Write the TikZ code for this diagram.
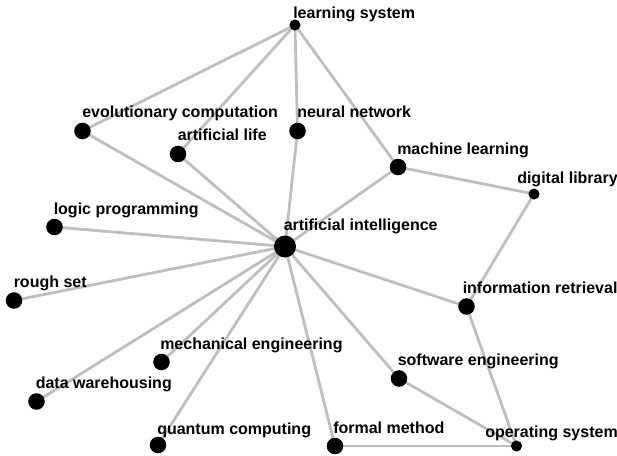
\documentclass[tikz,border=0pt]{standalone}
\usepackage{fontspec}
\setmainfont{Liberation Sans}
\usepackage{tikz}
\usetikzlibrary{backgrounds}

\definecolor{edgegray}{RGB}{190,190,190}

\begin{document}
\begin{tikzpicture}[x=0.75pt, y=-0.75pt,
    dot/.style={circle, fill=black, inner sep=0pt, minimum size=12.4pt},
    bigdot/.style={dot, minimum size=16.5pt},
    smalldot/.style={dot, minimum size=8.3pt},
    lbl/.style={anchor=base west, inner sep=0pt, font=\bfseries\fontsize{12}{14}\selectfont},
    link/.style={draw=edgegray, line width=2.1pt}]
    \useasboundingbox (0,0) rectangle (617,456);

    % topic dots
    \node[smalldot] (ls) at (295,25) {};
    \node[dot] (ec) at (82.5,131) {};
    \node[dot] (al) at (178,154) {};
    \node[dot] (nn) at (297.5,131) {};
    \node[dot] (ml) at (398,167) {};
    \node[smalldot] (dl) at (534,194) {};
    \node[dot] (lp) at (54.5,227) {};
    \node[bigdot] (ai) at (285,246.5) {};
    \node[dot] (rs) at (14,300.5) {};
    \node[dot] (ir) at (466.5,306.5) {};
    \node[dot] (me) at (161.5,362) {};
    \node[dot] (dw) at (36.5,401.5) {};
    \node[dot] (se) at (399,378.5) {};
    \node[dot] (qc) at (158,445) {};
    \node[dot] (fm) at (335,446) {};
    \node[smalldot] (os) at (516.5,446) {};

    % topic names
    \node[lbl] (ls-t) at (293,18.5) {learning system};
    \node[lbl] (ec-t) at (82,117.5) {evolutionary computation};
    \node[lbl] (al-t) at (177.5,141) {artificial life};
    \node[lbl] (nn-t) at (297,117.5) {neural network};
    \node[lbl] (ml-t) at (397,155) {machine learning};
    \node[lbl] (dl-t) at (517,184) {digital library};
    \node[lbl] (ai-t) at (283.5,230) {artificial intelligence};
    \node[lbl] (lp-t) at (53.5,214) {logic programming};
    \node[lbl] (rs-t) at (13.5,287) {rough set};
    \node[lbl] (ir-t) at (462.5,293) {information retrieval};
    \node[lbl] (me-t) at (160,349) {mechanical engineering};
    \node[lbl] (dw-t) at (35.5,388) {data warehousing};
    \node[lbl] (se-t) at (397.5,365) {software engineering};
    \node[lbl] (qc-t) at (157,434) {quantum computing};
    \node[lbl] (fm-t) at (333,433) {formal method};
    \node[lbl] (os-t) at (485,437) {operating system};

    % links under the dots
    \begin{scope}[on background layer]
        \foreach \a/\b in {ls/ec, ls/al, ls/nn, ls/ml,
                           ec/ai, al/ai, nn/ai, ml/ai, lp/ai, rs/ai, ir/ai,
                           me/ai, dw/ai, se/ai, qc/ai, fm/ai,
                           ml/dl, dl/ir, ir/os, se/os, fm/os}
            \draw[link] (\a.center) -- (\b.center);
    \end{scope}
\end{tikzpicture}
\end{document}
